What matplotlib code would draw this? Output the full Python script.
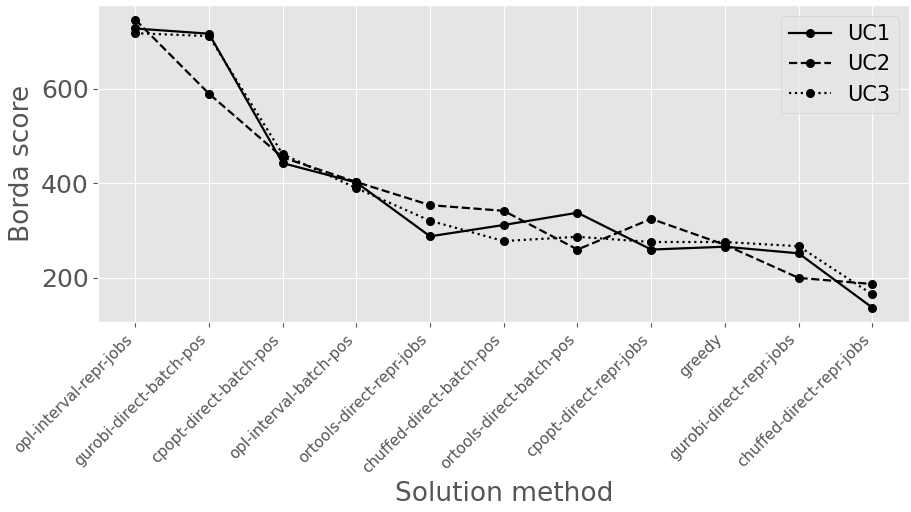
import matplotlib
matplotlib.use('Agg')
import matplotlib.pyplot as plt

plt.style.use('ggplot')

methods = ['opl-interval-repr-jobs', 'gurobi-direct-batch-pos', 'cpopt-direct-batch-pos',
           'opl-interval-batch-pos', 'ortools-direct-repr-jobs', 'chuffed-direct-batch-pos',
           'ortools-direct-batch-pos', 'cpopt-direct-repr-jobs', 'greedy',
           'gurobi-direct-repr-jobs', 'chuffed-direct-repr-jobs']
uc1 = [728, 717, 443, 402, 288, 312, 338, 260, 266, 252, 137]
uc2 = [747, 590, 455, 403, 354, 342, 260, 325, 270, 200, 187]
uc3 = [718, 712, 462, 390, 321, 278, 287, 276, 276, 267, 165]

fig = plt.figure(figsize=(9.11, 5.12), dpi=100)
ax = fig.add_axes([0.108, 0.371, 0.890, 0.619])

ax.plot(methods, uc1, color='black', linestyle='-', marker='o', markersize=5.5, linewidth=1.6, label='UC1')
ax.plot(methods, uc2, color='black', linestyle='--', marker='o', markersize=5.5, linewidth=1.6, label='UC2')
ax.plot(methods, uc3, color='black', linestyle=':', marker='o', markersize=5.5, linewidth=1.6, label='UC3')

ax.set_xlabel('Solution method', fontsize=19)
ax.set_ylabel('Borda score', fontsize=19)
ax.tick_params(axis='y', labelsize=18)
ax.tick_params(axis='x', labelsize=11)
plt.setp(ax.get_xticklabels(), rotation=45, ha='right')
ax.legend(loc='upper right', fontsize=15)

fig.savefig('out.png', dpi=100)
